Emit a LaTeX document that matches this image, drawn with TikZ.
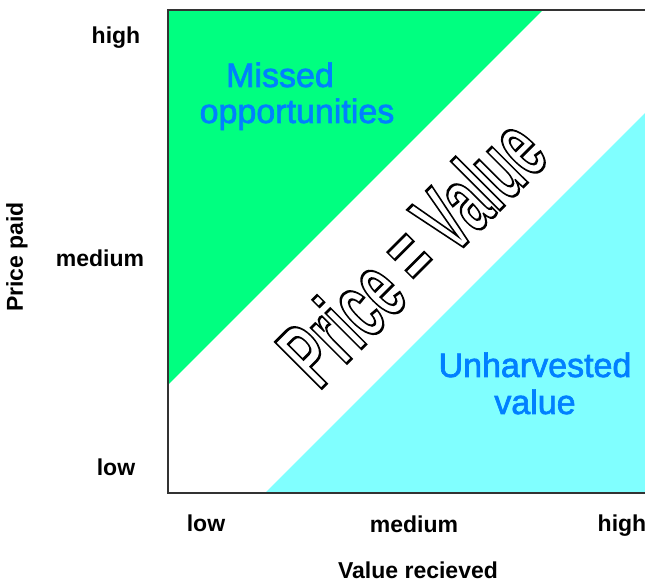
\documentclass[tikz,border=0pt]{standalone}
\usepackage{fontspec}
\setmainfont{Liberation Sans}
\newfontfamily\blufont[FakeBold=2]{Liberation Sans}
\definecolor{mgreen}{RGB}{0,255,128}
\definecolor{mcyan}{RGB}{128,255,255}
\definecolor{tblue}{RGB}{0,128,255}
\definecolor{boxgray}{RGB}{51,51,51}
\newcommand{\outlinetext}[1]{{\color{white}\special{pdf:literal direct 0 G 2 Tr 1.5 w}#1\special{pdf:literal direct 0 Tr}}}
\begin{document}
\begin{tikzpicture}[x=1pt,y=1pt,
  lbl/.style={font=\fontsize{23}{27}\selectfont\bfseries, inner sep=0, anchor=base},
  blu/.style={text=tblue, font=\blufont\fontsize{34}{40}\selectfont, inner sep=0, anchor=base}]
\useasboundingbox (0,0) rectangle (645,583);
\fill[white] (0,0) rectangle (645,583);
% regions
\fill[mgreen] (168,573) -- (543,573) -- (168,198) -- cycle;
\fill[mcyan] (265,90) -- (645,90) -- (645,470) -- cycle;
\draw[line width=2pt, boxgray] (645,573) -- (168,573) -- (168,90) -- (645,90);
% axis labels
\node[lbl] (yhigh) at (116,539) {high};
\node[lbl] (ymed) at (100,316) {medium};
\node[lbl] (ylow) at (116,107) {low};
\node[lbl] (xlow) at (206,51) {low};
\node[lbl] (xmed) at (414,50) {medium};
\node[lbl] (xhigh) at (622,51) {high};
\node[lbl] (xtitle) at (418,4) {Value recieved};
\node[lbl, anchor=center, rotate=90] (ytitle) at (17,326) {Price paid};
% region labels
\node[blu] (m1) at (280,496) {Missed};
\node[blu] (m2) at (297,460) {opportunities};
\node[blu] (u1) at (535,206) {Unharvested};
\node[blu] (u2) at (535,169) {value};
% diagonal text
\node[rotate=45, yscale=1.8, transform shape, inner sep=0,
      font=\fontsize{53}{60}\selectfont\bfseries] (pv) at (411,332)
      {\outlinetext{Price = Value}};
\end{tikzpicture}
\end{document}
